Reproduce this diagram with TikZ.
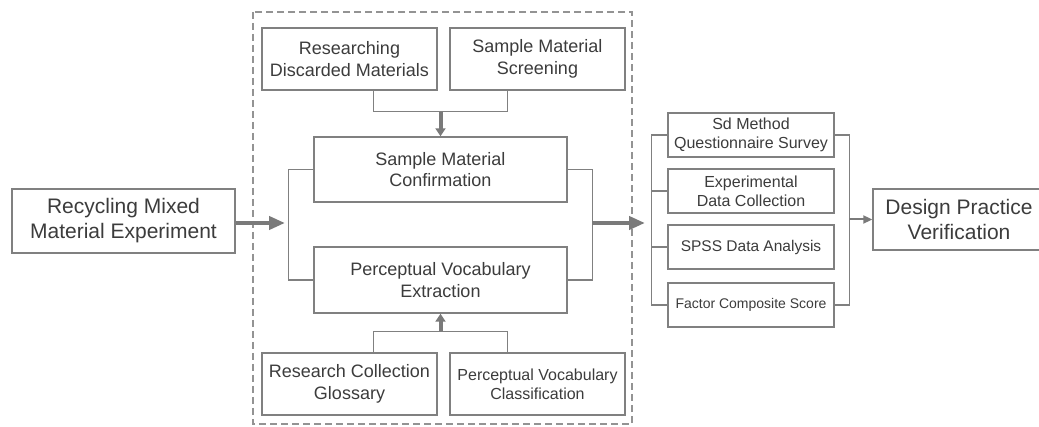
\documentclass[tikz,border=0pt]{standalone}
\usepackage{fontspec}
\setmainfont{Liberation Sans}
\usetikzlibrary{arrows.meta,calc}
\definecolor{linegray}{HTML}{808080}
\definecolor{arrgray}{HTML}{7A7A7A}
\definecolor{textgray}{HTML}{3C3C3C}
\tikzset{
  box/.style={draw=linegray, line width=1.4pt, fill=white, inner sep=0pt, align=center, text=textgray},
  bigtxt/.style={font=\fontsize{21}{25}\selectfont},
  midtxt/.style={font=\fontsize{18}{21.6}\selectfont},
  smtxt/.style={font=\fontsize{16}{19}\selectfont},
  conn/.style={draw=linegray, line width=1.4pt},
  mainarrow/.style={draw=arrgray, line width=4pt, -{Triangle[length=16pt,width=13pt]}},
  joinarrow/.style={draw=arrgray, line width=4pt, -{Triangle[length=8pt,width=10pt]}},
  thinarrow/.style={draw=arrgray, line width=2pt, -{Triangle[length=9pt,width=8pt]}},
}
\begin{document}
\begin{tikzpicture}[x=1pt,y=-1pt]
\useasboundingbox (0,0) rectangle (1039,427);
\clip (0,0) rectangle (1039,427);

% dashed frame around the material stage
\draw[linegray!85, line width=1.2pt, dash pattern=on 7pt off 4pt] (253,12) rectangle (632,424);

% left input
\node[box, bigtxt, minimum width=223pt, minimum height=64pt] (rme) at (123.5,221)
  {Recycling Mixed\\Material Experiment};

% material stage
\node[box, midtxt, minimum width=175pt, minimum height=62pt] (rdm) at (349.5,59)
  {Researching\\Discarded Materials};
\node[box, midtxt, minimum width=175pt, minimum height=62pt] (sms) at (537.5,59)
  {Sample Material\\Screening};
\node[box, midtxt, minimum width=253pt, minimum height=65pt] (smc) at (440.5,169.5)
  {Sample Material\\Confirmation};
\node[box, midtxt, minimum width=253pt, minimum height=66pt] (pve) at (440.5,280)
  {Perceptual Vocabulary\\Extraction};
\node[box, midtxt, minimum width=175pt, minimum height=62pt] (rcg) at (349.5,384)
  {Research Collection\\Glossary};
\node[box, smtxt, minimum width=175pt, minimum height=62pt] (pvc) at (537.5,384)
  {Perceptual Vocabulary\\Classification};

% analysis stage
\node[box, smtxt, minimum width=166pt, minimum height=44pt] (sdm) at (751,135)
  {Sd Method\\Questionnaire Survey};
\node[box, smtxt, minimum width=166pt, minimum height=44pt] (edc) at (751,191)
  {Experimental\\Data Collection};
\node[box, font=\fontsize{15.5}{18}\selectfont, minimum width=166pt, minimum height=44pt] (spss) at (751,247)
  {SPSS Data Analysis};
\node[box, font=\fontsize{14}{17}\selectfont, minimum width=166pt, minimum height=44pt] (fcs) at (751,305)
  {Factor Composite Score};

% output
\node[box, bigtxt, minimum width=172pt, minimum height=61pt] (dpv) at (959,219.5)
  {Design Practice\\Verification};

% joins into the two central steps
\draw[conn] ([xshift=24pt]rdm.south) -- ++(0,21) coordinate (tl) -| ([xshift=-30pt]sms.south);
\coordinate (tj) at (smc.north |- tl);
\draw[joinarrow] (tj) -- (smc.north);

\draw[conn] ([xshift=24pt]rcg.north) -- ++(0,-21) coordinate (bl) -| ([xshift=-30pt]pvc.north);
\coordinate (bj) at (pve.south |- bl);
\draw[joinarrow] (bj) -- (pve.south);

% brackets around the central steps
\draw[conn] (smc.west) -- ++(-25,0) |- (pve.west);
\draw[conn] (smc.east) -- ++(25,0) |- (pve.east);

% brackets around the analysis column
\draw[conn] (sdm.west) -- ++(-16,0) |- (fcs.west);
\draw[conn] (edc.west) -- ++(-16,0);
\draw[conn] (spss.west) -- ++(-16,0);
\draw[conn] (sdm.east) -- ++(15,0) |- (fcs.east);

% main flow arrows
\coordinate (inL) at (285,223);
\coordinate (outR) at (592,223);
\coordinate (inA) at (645,223);
\coordinate (outA) at (849,219.5);
\draw[mainarrow] (rme.east |- inL) -- (inL);
\draw[mainarrow] (outR) -- (inA);
\draw[thinarrow] (outA) -- (dpv.west);
\end{tikzpicture}
\end{document}
